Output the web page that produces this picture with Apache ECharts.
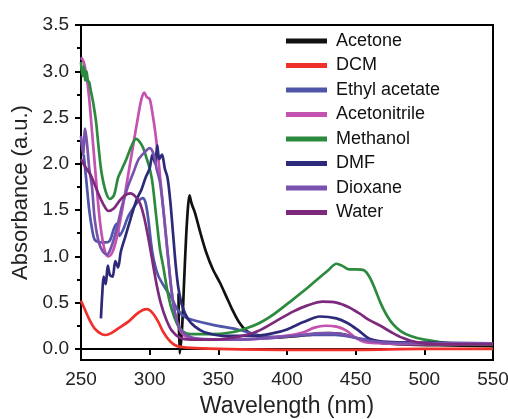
<!DOCTYPE html>
<html>
<head>
<meta charset="utf-8">
<script src="https://cdn.jsdelivr.net/npm/echarts@6/dist/echarts.min.js"></script>
<style>
  html, body { margin: 0; padding: 0; background: #fff; }
  #chart { width: 508px; height: 419px; }
</style>
</head>
<body>
<div id="chart"></div>
<script>
// spectra, [wavelength nm, absorbance]
var acetone = [[321,0.6],[321.8,-0.05],[323.5,0.2],[325,0.7],[326.5,1.2],[328,1.55],[329,1.66],[330,1.6],[331,1.55],[333,1.47],[337,1.25],[341,1.05],[346,0.86],[351,0.72],[356,0.56],[360,0.43],[365,0.29],[370,0.2],[376,0.15],[385,0.12],[400,0.13],[415,0.15],[430,0.17],[440,0.16],[450,0.12],[460,0.08],[480,0.05],[510,0.04],[550,0.03]];
var dcm = [[250,0.52],[253,0.42],[256,0.32],[260,0.22],[265,0.16],[268,0.15],[272,0.17],[278,0.23],[285,0.3],[290,0.37],[295,0.42],[298,0.43],[302,0.39],[306,0.3],[310,0.18],[315,0.08],[320,0.03],[330,0.01],[350,0.0],[400,-0.01],[450,-0.01],[500,0.0],[550,0.0]];
var ethylAcetate = [[252,2.1],[254,1.8],[256,1.5],[258,1.3],[260,1.18],[264,1.15],[268,1.15],[271,1.17],[274,1.3],[276,1.35],[278,1.22],[281,1.3],[284,1.42],[288,1.52],[292,1.6],[295,1.63],[297,1.58],[299,1.4],[302,1.04],[306,0.8],[312,0.64],[316,0.55],[320,0.43],[326,0.34],[332,0.31],[346,0.26],[364,0.21],[388,0.13],[400,0.14],[420,0.15],[435,0.15],[450,0.12],[465,0.08],[480,0.06],[550,0.05]];
var acetonitrile = [[250,3.15],[252,3.1],[254,2.95],[256,2.7],[258,2.35],[260,2.0],[262,1.65],[264,1.35],[266,1.15],[268,1.03],[270,1.0],[273,1.05],[276,1.2],[280,1.5],[284,1.85],[288,2.2],[292,2.55],[294,2.7],[296,2.77],[298,2.72],[300,2.7],[302,2.55],[304,2.35],[306,2.1],[308,1.8],[310,1.5],[312,1.2],[314,0.9],[316,0.62],[318,0.42],[320,0.28],[323,0.18],[328,0.12],[340,0.1],[360,0.1],[380,0.11],[400,0.14],[412,0.18],[420,0.23],[428,0.25],[436,0.24],[443,0.2],[450,0.12],[458,0.07],[470,0.06],[500,0.05],[550,0.05]];
var methanol = [[250,3.1],[251,2.95],[252,3.05],[253,2.9],[254,3.0],[255,2.9],[256,2.88],[257,2.8],[259,2.65],[261,2.45],[263,2.15],[265,1.9],[268,1.7],[271,1.62],[274,1.66],[277,1.85],[280,1.95],[283,2.05],[287,2.2],[290,2.27],[292,2.25],[295,2.18],[298,2.05],[300,1.95],[302,1.8],[305,1.4],[307.5,1.08],[310,0.88],[313,0.62],[316,0.43],[320,0.27],[324,0.19],[330,0.16],[345,0.16],[360,0.18],[370,0.22],[380,0.28],[390,0.37],[404,0.53],[415,0.66],[422,0.75],[430,0.85],[436,0.92],[440,0.9],[445,0.86],[450,0.86],[456,0.85],[460,0.78],[464,0.65],[468,0.5],[472,0.38],[477,0.27],[483,0.19],[490,0.14],[500,0.1],[520,0.06],[550,0.05]];
var dmf = [[264.5,0.33],[265.5,0.6],[266.5,0.78],[268,0.7],[269.5,0.9],[271,0.8],[273,0.78],[275,0.95],[277,0.88],[279,1.05],[282,1.2],[285,1.35],[288,1.5],[291,1.63],[294,1.72],[297,1.85],[300,1.95],[302,2.1],[304,2.0],[305.5,2.2],[307,2.05],[309,2.1],[311,1.95],[313,1.85],[315,1.6],[317,1.25],[319,0.9],[321,0.65],[324,0.45],[328,0.32],[333,0.24],[340,0.18],[355,0.14],[375,0.14],[390,0.17],[400,0.21],[412,0.29],[424,0.35],[436,0.33],[444,0.28],[452,0.2],[460,0.11],[470,0.08],[490,0.07],[550,0.06]];
var dioxane = [[250,2.3],[251.5,2.1],[253,2.38],[254.5,2.2],[256,1.95],[258,1.75],[260,1.4],[263,1.15],[266,1.05],[269,1.02],[272,1.1],[276,1.3],[280,1.55],[284,1.75],[288,1.9],[292,2.05],[296,2.12],[300,2.17],[303,2.1],[305,1.95],[307.5,1.8],[310,1.5],[312,1.2],[314,0.9],[316,0.62],[319,0.35],[323,0.2],[328,0.14],[335,0.11],[360,0.1],[390,0.12],[410,0.15],[425,0.17],[440,0.16],[455,0.1],[470,0.07],[500,0.06],[550,0.06]];
var water = [[250,2.05],[253,1.97],[257,1.88],[262,1.7],[266,1.57],[270,1.49],[274,1.52],[278,1.6],[282,1.66],[286,1.68],[290,1.64],[293,1.57],[296,1.42],[299,1.2],[302,0.95],[305,0.7],[308,0.5],[312,0.32],[316,0.2],[322,0.12],[330,0.1],[345,0.1],[360,0.12],[370,0.15],[380,0.2],[392,0.3],[404,0.4],[415,0.47],[426,0.51],[436,0.5],[445,0.45],[453,0.38],[460,0.31],[468,0.25],[476,0.18],[484,0.12],[495,0.07],[510,0.05],[550,0.05]];

var names = ["Acetone", "DCM", "Ethyl acetate", "Acetonitrile", "Methanol", "DMF", "Dioxane", "Water"];
var colors = ["#111111", "#f0302a", "#4f55a8", "#c452b0", "#2b8a3e", "#2d2a7a", "#7952ad", "#7d2a7d"];
var allData = [acetone, dcm, ethylAcetate, acetonitrile, methanol, dmf, dioxane, water];

var yMajor = [0, 0.5, 1, 1.5, 2, 2.5, 3, 3.5];
var yMinor = [0.25, 0.75, 1.25, 1.75, 2.25, 2.75, 3.25];

var chart = echarts.init(document.getElementById("chart"));
var font = "Liberation Sans, Arial, sans-serif";

var series = [];
names.forEach(function (n, i) {
  series.push({
    name: n,
    type: "line",
    data: allData[i],
    showSymbol: false,
    symbol: "none",
    smooth: 0.3,
    lineStyle: { width: 2.7, color: colors[i] },
    itemStyle: { color: colors[i] },
  });
});

var option = {
  animation: false,
  backgroundColor: "#fff",
  grid: {
    left: 81, right: 15, top: 25, bottom: 59,
    outerBoundsMode: "none",
    show: true, borderColor: "#000", borderWidth: 2,
  },
  legend: {
    orient: "vertical",
    left: 286, top: 32,
    padding: 0,
    itemWidth: 41, itemHeight: 5,
    itemGap: 6.5,
    icon: "rect",
    textStyle: { fontFamily: font, fontSize: 18, color: "#111", padding: [0, 0, 0, 4] },
    data: names,
  },
  xAxis: {
    type: "value",
    min: 250, max: 550, interval: 50,
    name: "Wavelength (nm)",
    nameLocation: "middle",
    nameGap: 35,
    nameTextStyle: { fontFamily: font, fontSize: 23, color: "#222" },
    axisLine: { show: true, lineStyle: { color: "#000", width: 2 } },
    axisTick: { show: true, inside: false, length: 6, lineStyle: { color: "#000", width: 2 } },
    axisLabel: { fontFamily: font, fontSize: 19, color: "#222", margin: 10 },
    splitLine: { show: false },
  },
  yAxis: [
    {
      type: "value",
      min: -0.12, max: 3.5,
      name: "Absorbance (a.u.)",
      nameLocation: "middle",
      nameGap: 46,
      nameTextStyle: { fontFamily: font, fontSize: 22, color: "#222" },
      axisLine: { show: true, lineStyle: { color: "#000", width: 2 } },
      axisTick: { show: true, length: 6, customValues: yMajor, lineStyle: { color: "#000", width: 2 } },
      axisLabel: {
        fontFamily: font, fontSize: 19, color: "#222", margin: 12,
        customValues: yMajor,
        formatter: function (v) { return v.toFixed(1); },
      },
      splitLine: { show: false },
    },
    {
      type: "value",
      position: "left",
      min: -0.12, max: 3.5,
      axisLine: { show: false },
      axisTick: { show: true, length: 4, customValues: yMinor, lineStyle: { color: "#000", width: 2 } },
      axisLabel: { show: false },
      splitLine: { show: false },
    },
  ],
  series: series,
};
chart.setOption(option);
</script>
</body>
</html>
